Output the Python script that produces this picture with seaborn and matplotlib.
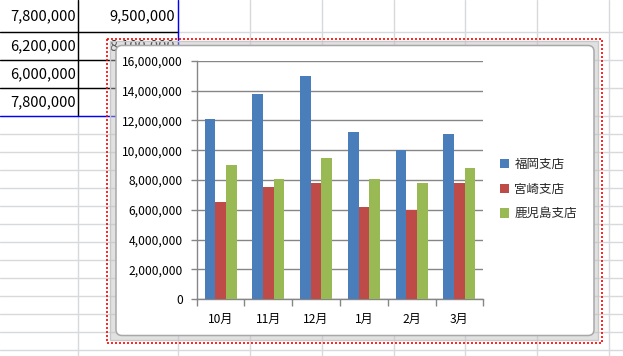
import matplotlib
matplotlib.use("Agg")
import matplotlib.pyplot as plt
import seaborn as sns
import pandas as pd
from matplotlib.patches import FancyBboxPatch, Rectangle
from matplotlib.ticker import FuncFormatter, FixedLocator

months = ["10月", "11月", "12月", "1月", "2月", "3月"]
branches = ["福岡支店", "宮崎支店", "鹿児島支店"]
fukuoka = [12100000, 13800000, 15000000, 11200000, 10000000, 11100000]
miyazaki = [6500000, 7500000, 7800000, 6200000, 6000000, 7800000]
kagoshima = [9000000, 8100000, 9500000, 8100000, 7800000, 8800000]
colors = ["#4A7EBB", "#BE4B48", "#98B954"]
yticks = [0, 2000000, 4000000, 6000000, 8000000, 10000000, 12000000, 14000000, 16000000]

sns.set_theme(style="white")
plt.rcParams["font.family"] = ["Noto Sans CJK JP", "DejaVu Sans"]

W, H = 623, 356
fig = plt.figure(figsize=(W / 100, H / 100), dpi=100)

# ---- spreadsheet background ----
bg = fig.add_axes([0, 0, 1, 1])
bg.set_xlim(0, W)
bg.set_ylim(H, 0)
bg.axis("off")
grid_c = "#D7DADD"
for x in [78, 178, 250, 322, 393.5, 465, 537, 609]:
    bg.plot([x, x], [0, H], color=grid_c, lw=1, zorder=1)
for y in [32, 60, 88, 115.5] + [115.5 + 18 * i for i in range(1, 14)]:
    bg.plot([0, W], [y, y], color=grid_c, lw=1, zorder=1)
for y in [32, 60, 88]:
    bg.plot([0, 178], [y, y], color="black", lw=1, zorder=2)
bg.plot([78, 78], [0, 115.5], color="black", lw=1, zorder=2)
bg.plot([178, 178], [0, 115.5], color="#0000FF", lw=1, zorder=3)
bg.plot([0, 178], [115.5, 115.5], color="#0000FF", lw=1, zorder=3)

# table cells (rows 12月..3月): column A fully visible
row_y = [16, 46, 74, 102]
for i, r in enumerate(range(2, 6)):
    bg.text(76, row_y[i], f"{miyazaki[r]:,}", ha="right", va="center",
            fontsize=10.5, color="black", zorder=2)
# column B: only the first row and the top sliver of the second are visible
bg.text(175, row_y[0], f"{kagoshima[2]:,}", ha="right", va="center",
        fontsize=10.5, color="black", zorder=2)
t = bg.text(175, row_y[1], f"{kagoshima[3]:,}", ha="right", va="center",
            fontsize=10.5, color="black", zorder=2)
clip = Rectangle((100, 30), 90, 15, transform=bg.transData)
t.set_clip_path(clip)

# chart frame (semi-transparent selection band)
bg.add_patch(Rectangle((110, 41), 488, 299, facecolor="#BDBDBD", alpha=0.45,
                       edgecolor="none", zorder=5))
bg.add_patch(Rectangle((110, 41), 488, 299, facecolor="none",
                       edgecolor="#C8C8C8", lw=1, zorder=5))
bg.add_patch(FancyBboxPatch((116 + 6, 45.5 + 6), 478 - 12, 290 - 12,
                            boxstyle="round,pad=6", facecolor="white",
                            edgecolor="#A8A8A8", lw=1.1, zorder=6))
bg.add_patch(Rectangle((107, 39), 495, 304, facecolor="none",
                       edgecolor="#FF0000", lw=1.2, linestyle=(0, (1.2, 1.2)),
                       zorder=7))

# ---- chart ----
x0, x1, y0, y1 = 196.7, 483.3, 60.7, 299.3
ax = fig.add_axes([x0 / W, (H - y1) / H, (x1 - x0) / W, (y1 - y0) / H])
ax.set_zorder(10)
ax.patch.set_alpha(0)

df = pd.DataFrame({
    "month": months * 3,
    "branch": [branches[0]] * 6 + [branches[1]] * 6 + [branches[2]] * 6,
    "value": fukuoka + miyazaki + kagoshima,
})
sns.barplot(data=df, x="month", y="value", hue="branch", order=months,
            hue_order=branches, palette=colors, saturation=1, width=0.667,
            gap=0, ax=ax, legend=True, zorder=3, edgecolor="none", linewidth=0)

gc = "#868686"
ax.set_ylim(0, 16000000)
ax.set_xlim(-0.5, 5.5)
ax.set_yticks(yticks)
ax.yaxis.set_major_formatter(FuncFormatter(lambda v, p: f"{int(v):,}"))
ax.yaxis.grid(True, color=gc, lw=1)
ax.set_axisbelow(True)
ax.set_xlabel("")
ax.set_ylabel("")
for s in ["top", "right"]:
    ax.spines[s].set_visible(False)
for s in ["left", "bottom"]:
    ax.spines[s].set_color(gc)
    ax.spines[s].set_linewidth(1)
ax.tick_params(axis="y", which="major", length=4, width=1, color=gc,
               labelsize=8.7, labelcolor="black", pad=6, left=True)
ax.tick_params(axis="x", which="major", length=0, labelsize=8.7,
               labelcolor="black", pad=10)
ax.xaxis.set_minor_locator(FixedLocator([i - 0.5 for i in range(7)]))
ax.tick_params(axis="x", which="minor", length=5, width=1, color=gc,
               bottom=True)

handles, labels = ax.get_legend_handles_labels()
ax.legend(handles, labels, loc="center left",
          bbox_to_anchor=(500 / W, (H - 189) / H),
          bbox_transform=fig.transFigure, frameon=False, fontsize=9,
          handlelength=0.75, handleheight=0.75, handletextpad=0.4,
          labelspacing=0.95, borderpad=0, borderaxespad=0)

fig.savefig("out.png", dpi=100)
